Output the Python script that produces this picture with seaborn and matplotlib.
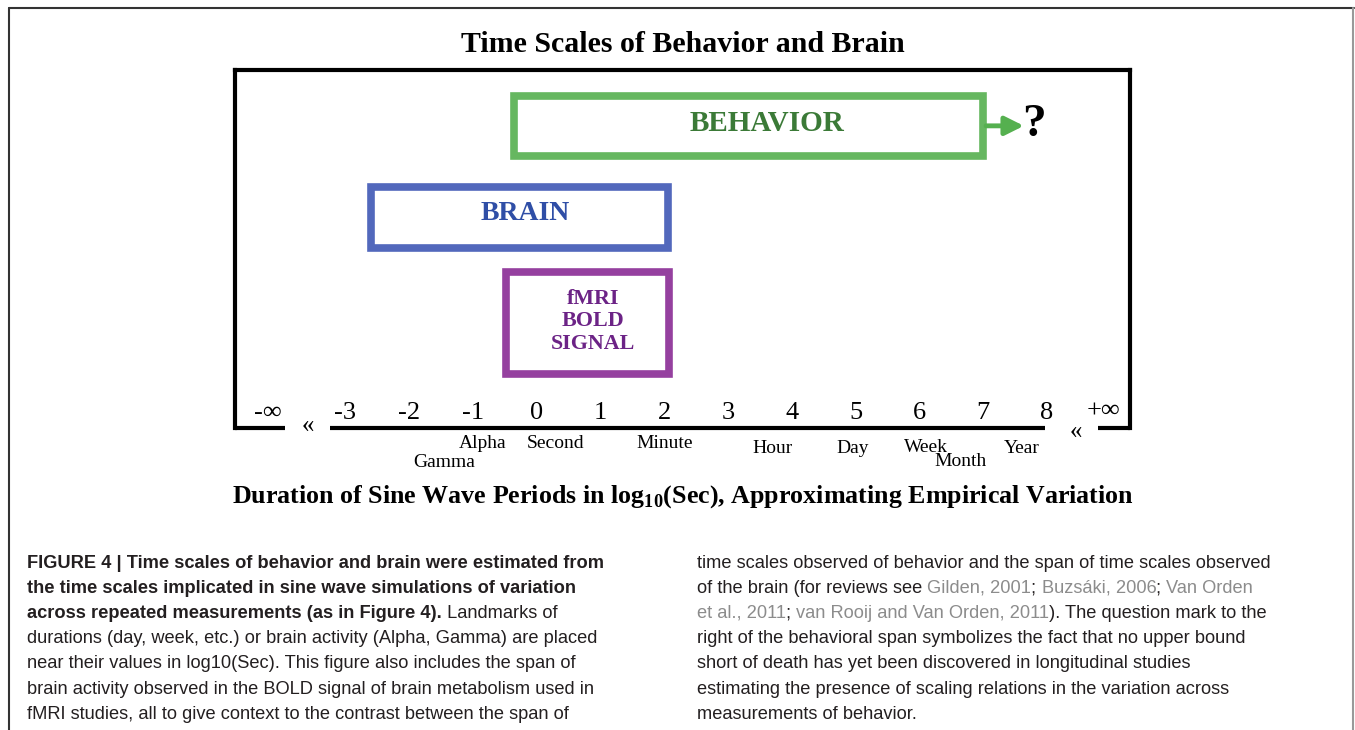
import matplotlib.pyplot as plt
import matplotlib.lines as mlines
import seaborn as sns

# time spans in log10(sec)
span_names = ["BEHAVIOR", "BRAIN", "fMRI\nBOLD\nSIGNAL"]
span_start = [-0.35, -2.6, -0.48]
span_end = [7.0, 2.05, 2.08]
span_colors = ["#55b04f", "#3f58b5", "#8a2b95"]
label_colors = ["#3b7a37", "#2f4ea6", "#6c2386"]

# axis ticks
tick_values = [-3, -2, -1, 0, 1, 2, 3, 4, 5, 6, 7, 8]
tick_labels = ["-3", "-2", "-1", "0", "1", "2", "3", "4", "5", "6", "7", "8"]

# landmarks placed near their log10(sec) value
landmark_names = ["Gamma", "Alpha", "Second", "Minute", "Hour", "Day", "Week", "Month", "Year"]
landmark_x = [-1.45, -0.85, 0.3, 2.0, 3.7, 4.95, 6.1, 6.65, 7.6]

INK = "#231f20"
REF = "#8c8c8c"
caption_left = [
    [("FIGURE 4 | Time scales of behavior and brain were estimated from", "bold", INK)],
    [("the time scales implicated in sine wave simulations of variation", "bold", INK)],
    [("across repeated measurements (as in Figure 4).", "bold", INK), (" Landmarks of", "normal", INK)],
    [("durations (day, week, etc.) or brain activity (Alpha, Gamma) are placed", "normal", INK)],
    [("near their values in log10(Sec). This figure also includes the span of", "normal", INK)],
    [("brain activity observed in the BOLD signal of brain metabolism used in", "normal", INK)],
    [("fMRI studies, all to give context to the contrast between the span of", "normal", INK)],
]
caption_right = [
    [("time scales observed of behavior and the span of time scales observed", "normal", INK)],
    [("of the brain (for reviews see ", "normal", INK), ("Gilden, 2001", "normal", REF),
     ("; ", "normal", INK), ("Buzsáki, 2006", "normal", REF), ("; ", "normal", INK),
     ("Van Orden", "normal", REF)],
    [("et al., 2011", "normal", REF), ("; ", "normal", INK),
     ("van Rooij and Van Orden, 2011", "normal", REF),
     ("). The question mark to the", "normal", INK)],
    [("right of the behavioral span symbolizes the fact that no upper bound", "normal", INK)],
    [("short of death has yet been discovered in longitudinal studies", "normal", INK)],
    [("estimating the presence of scaling relations in the variation across", "normal", INK)],
    [("measurements of behavior.", "normal", INK)],
]

W, H = 1355, 730
SERIF = ["Liberation Serif", "DejaVu Serif"]
SANS = ["Liberation Sans", "DejaVu Sans"]

sns.set_theme(style="white")
plt.rcParams["font.family"] = SERIF
plt.rcParams["mathtext.fontset"] = "custom"
plt.rcParams["mathtext.bf"] = "Liberation Serif:bold"
plt.rcParams["mathtext.rm"] = "Liberation Serif"

fig = plt.figure(figsize=(W / 100, H / 100), dpi=100)
fig.patch.set_facecolor("white")

# outer page frame
fig.add_artist(mlines.Line2D([9 / W, 1 - 1 / W], [1 - 7.5 / H, 1 - 7.5 / H], color="#333333", lw=1.5))
fig.add_artist(mlines.Line2D([9 / W, 9 / W], [0, 1 - 7.5 / H], color="#333333", lw=1.5))
fig.add_artist(mlines.Line2D([1 - 2 / W, 1 - 2 / W], [0, 1 - 7.5 / H], color="#999999", lw=1.5))

ax = fig.add_axes([235 / W, 1 - 428 / H, 895 / W, 358 / H])
ax.set_xlim(-4.73, 9.30)
ax.set_ylim(10, 0)
ax.set_xticks([])
ax.set_yticks([])
for side in ["top", "left", "right"]:
    ax.spines[side].set_linewidth(3)
    ax.spines[side].set_color("black")
ax.spines["bottom"].set_visible(False)

# broken bottom axis
ax.plot([-4.73, -3.94], [10, 10], color="black", lw=3, clip_on=False, solid_capstyle="butt")
ax.plot([-3.24, 7.97], [10, 10], color="black", lw=3, clip_on=False, solid_capstyle="butt")
ax.plot([8.8, 9.30], [10, 10], color="black", lw=3, clip_on=False, solid_capstyle="butt")

# span boxes
row_y = [1.56, 4.12, 7.07]
row_h = [1.68, 1.70, 2.85]
label_dx = [0.28, 0.1, 0.08]
label_dy = [-0.06, -0.1, -0.05]
label_size = [21, 20, 15.8]
for i, name in enumerate(span_names):
    ax.barh(row_y[i], width=span_end[i] - span_start[i], left=span_start[i],
            height=row_h[i], fill=False, edgecolor=span_colors[i], linewidth=5.5, alpha=0.9)
    cx = (span_start[i] + span_end[i]) / 2 + label_dx[i]
    ax.text(cx, row_y[i] + label_dy[i], name, ha="center", va="center",
            fontsize=label_size[i], fontweight="bold", color=label_colors[i], linespacing=1.15)

# open-ended arrow for behavior
ax.annotate("", xy=(7.68, row_y[0]), xytext=(span_end[0], row_y[0]),
            arrowprops=dict(arrowstyle="-|>", color=span_colors[0], lw=3.5, mutation_scale=28))
ax.text(7.8, row_y[0] - 0.02, "?", ha="center", va="center", fontsize=34, fontweight="bold", color="black")

# tick labels sit above the axis line
for v, lab in zip(tick_values, tick_labels):
    ax.text(v, 9.57, lab, ha="center", va="center", fontsize=19, color="black")
ax.text(-4.21, 9.57, "-∞", ha="center", va="center", fontsize=19, color="black", family=SERIF)
ax.text(8.88, 9.53, "+∞", ha="center", va="center", fontsize=19, color="black", family=SERIF)
ax.text(-3.58, 9.95, "«", ha="center", va="center", fontsize=18, color="black")
ax.text(8.45, 10.1, "«", ha="center", va="center", fontsize=18, color="black")

landmark_y = [10.97, 10.44, 10.44, 10.44, 10.58, 10.58, 10.55, 10.94, 10.58]
for name, x, y in zip(landmark_names, landmark_x, landmark_y):
    ax.text(x, y, name, ha="center", va="center", fontsize=14, color="black")

fig.text(683 / W, 1 - 45 / H, "Time Scales of Behavior and Brain", ha="center", va="center",
         fontsize=21.5, fontweight="bold", color="black")
fig.text(682.5 / W, 1 - 497 / H,
         r"Duration of Sine Wave Periods in log$_{\mathbf{10}}$(Sec), Approximating Empirical Variation",
         ha="center", va="center", fontsize=18.7, fontweight="bold", color="black")

# caption
renderer = fig.canvas.get_renderer()


def text_width(s, weight, size):
    def w(t):
        tt = fig.text(0, 0, t, fontsize=size, fontweight=weight, family=SANS)
        bb = tt.get_window_extent(renderer)
        tt.remove()
        return bb.width
    return w("|" + s + "|") - w("||")


cap_size = 10 * 573 / text_width(caption_left[3][0][0], "normal", 10)


def draw_caption(lines, x0, y0, step):
    for k, segs in enumerate(lines):
        x = x0
        y = y0 + k * step
        for s, weight, color in segs:
            fig.text(x / W, 1 - y / H, s, fontsize=cap_size, fontweight=weight, color=color,
                     family=SANS, ha="left", va="center")
            x += text_width(s, weight, cap_size)


draw_caption(caption_left, 27, 563, 25.2)
draw_caption(caption_right, 697, 563, 25.2)

fig.savefig("out.png", dpi=100, facecolor="white")
